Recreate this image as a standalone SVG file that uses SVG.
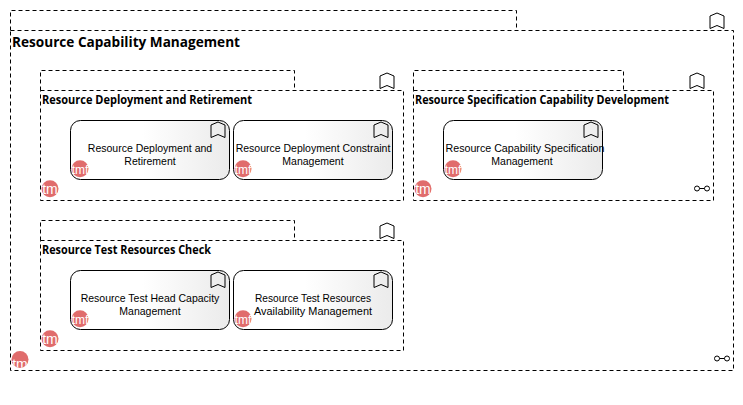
<svg xmlns="http://www.w3.org/2000/svg" xmlns:xlink="http://www.w3.org/1999/xlink" width="743" height="405" viewBox="0 0 743 405">
<style>
.g{fill:#fff;stroke:#000;stroke-width:1;stroke-dasharray:4 3}
.n{fill:url(#nf);stroke:#000;stroke-width:1}
.i{fill:none;stroke:#000;stroke-width:1}
.b{fill:#e06c6c}
.bt{fill:#fff;font:14px "Liberation Sans",Arial,sans-serif;text-anchor:middle}
.bs{fill:#fff;font:12px "Liberation Sans",Arial,sans-serif;text-anchor:middle}
.nt{fill:#000;font:10.500px "Liberation Sans",Arial,sans-serif;text-anchor:middle}
.t1{fill:#000;font:bold 14px "Open Sans",sans-serif}
.t2{fill:#000;font:bold 11.500px "Open Sans",sans-serif}
</style>
<defs>
<linearGradient id="nf" x1="0" x2="1" y1="0" y2="0"><stop offset="0.45" stop-color="#fff"/><stop offset="1" stop-color="#ebebeb"/></linearGradient>
<path id="bm" d="M0 15.500V3L7 0L14 3V15.500L7 12.500Z" class="i"/>
<g id="ln"><circle cx="3" cy="0" r="2.500" class="i"/><circle cx="13" cy="0" r="2.500" class="i"/><path d="M5.500 0H10.500" class="i"/></g>
<clipPath id="c0"><circle cx="20" cy="359.500" r="8.500"/></clipPath>
</defs>
<rect width="743" height="405" fill="#fff"/>
<g id="connectors"/>
<g id="outer">
<path class="g" d="M10.500 30.500V10.500H516.500V30.500"/>
<path class="g" d="M10.500 30.500H733.500V370.500H10.500Z"/>
<use xlink:href="#bm" href="#bm" x="710" y="13"/>
<text class="t1" x="12" y="47" textLength="228" lengthAdjust="spacingAndGlyphs">Resource Capability Management</text>
<circle class="b" cx="20" cy="359.500" r="8.500"/>
<text class="bt" x="20" y="369" clip-path="url(#c0)">tm</text>
<use xlink:href="#ln" href="#ln" x="714" y="358.500"/>
</g>
<g id="group-deployment">
<path class="g" d="M40.500 90.500V70.500H294.500V90.500"/>
<path class="g" d="M40.500 90.500H403.500V200.500H40.500Z"/>
<use xlink:href="#bm" href="#bm" x="380" y="73"/>
<text class="t2" x="42" y="104" textLength="210" lengthAdjust="spacingAndGlyphs">Resource Deployment and Retirement</text>
<circle class="b" cx="50" cy="188.700" r="8.500"/>
<text class="bt" x="50" y="193.500">tm</text>
</g>
<g id="group-specification">
<path class="g" d="M413.500 90.500V70.500H623.500V90.500"/>
<path class="g" d="M413.500 90.500H713.500V200.500H413.500Z"/>
<use xlink:href="#bm" href="#bm" x="690" y="73"/>
<text class="t2" x="415" y="104" textLength="254" lengthAdjust="spacingAndGlyphs">Resource Specification Capability Development</text>
<circle class="b" cx="423" cy="188.700" r="8.500"/>
<text class="bt" x="423" y="193.500">tm</text>
<use xlink:href="#ln" href="#ln" x="694" y="188.500"/>
</g>
<g id="group-test">
<path class="g" d="M40.500 240.500V220.500H294.500V240.500"/>
<path class="g" d="M40.500 240.500H403.500V350.500H40.500Z"/>
<use xlink:href="#bm" href="#bm" x="380" y="223"/>
<text class="t2" x="42" y="254" textLength="169" lengthAdjust="spacingAndGlyphs">Resource Test Resources Check</text>
<circle class="b" cx="50" cy="338.700" r="8.500"/>
<text class="bt" x="50" y="343.500">tm</text>
</g>
<g id="node-deployment">
<rect class="n" x="70.500" y="120.500" width="159" height="59" rx="10"/>
<use xlink:href="#bm" href="#bm" x="211" y="122"/>
<text class="nt" x="150" y="152">Resource Deployment and</text>
<text class="nt" x="150" y="165">Retirement</text>
<circle class="b" cx="80" cy="168.800" r="8.500"/>
<text class="bs" x="80" y="173.500">tmf</text>
</g>
<g id="node-constraint">
<rect class="n" x="233.500" y="120.500" width="159" height="59" rx="10"/>
<use xlink:href="#bm" href="#bm" x="374" y="122"/>
<text class="nt" x="313" y="152">Resource Deployment Constraint</text>
<text class="nt" x="313" y="165">Management</text>
<circle class="b" cx="243" cy="168.800" r="8.500"/>
<text class="bs" x="243" y="173.500">tmf</text>
</g>
<g id="node-capability">
<rect class="n" x="443.500" y="120.500" width="159" height="59" rx="10"/>
<use xlink:href="#bm" href="#bm" x="584" y="122"/>
<text class="nt" x="525" y="152" textLength="159" lengthAdjust="spacingAndGlyphs">Resource Capability Specification</text>
<text class="nt" x="522" y="165">Management</text>
<circle class="b" cx="453" cy="168.800" r="8.500"/>
<text class="bs" x="453" y="173.500">tmf</text>
</g>
<g id="node-head">
<rect class="n" x="70.500" y="270.500" width="159" height="59" rx="10"/>
<use xlink:href="#bm" href="#bm" x="211" y="272"/>
<text class="nt" x="150" y="302">Resource Test Head Capacity</text>
<text class="nt" x="150" y="315">Management</text>
<circle class="b" cx="80" cy="318.800" r="8.500"/>
<text class="bs" x="80" y="323.500">tmf</text>
</g>
<g id="node-availability">
<rect class="n" x="233.500" y="270.500" width="159" height="59" rx="10"/>
<use xlink:href="#bm" href="#bm" x="374" y="272"/>
<text class="nt" x="313" y="302" textLength="116" lengthAdjust="spacingAndGlyphs">Resource Test Resources</text>
<text class="nt" x="313" y="315" textLength="118" lengthAdjust="spacingAndGlyphs">Availability Management</text>
<circle class="b" cx="243" cy="318.800" r="8.500"/>
<text class="bs" x="243" y="323.500">tmf</text>
</g>
</svg>
